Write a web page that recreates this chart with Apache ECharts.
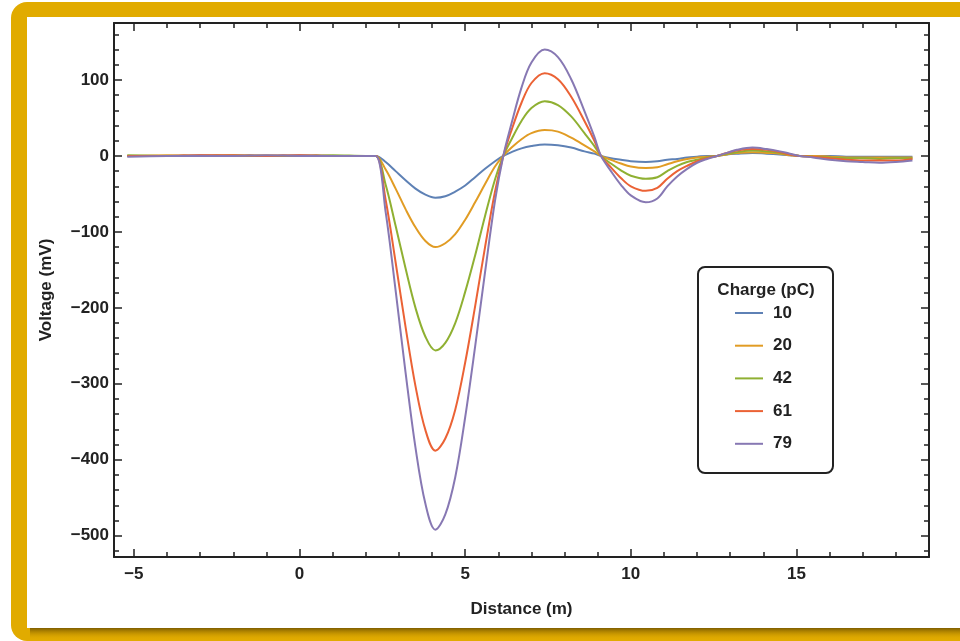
<!DOCTYPE html>
<html>
<head>
<meta charset="utf-8">
<script src="https://cdn.jsdelivr.net/npm/echarts@6/dist/echarts.min.js"></script>
<style>
  html, body { margin: 0; padding: 0; background: #fff; }
  #chart { width: 960px; height: 641px; }
</style>
</head>
<body>
<div id="chart"></div>
<script>
// distance (m) sample positions
let distance = [-5.2, -4, -3, -2, -1, 0, 1, 2,
    2.3, 2.6, 2.9, 3.2, 3.5, 3.8, 4.1, 4.4, 4.7, 5.0, 5.3, 5.6, 5.9, 6.15,
    6.4, 6.7, 7.0, 7.4, 7.8, 8.2, 8.6, 8.9, 9.1,
    9.4, 9.7, 10.0, 10.45, 10.8, 11.1, 11.4, 11.7, 12.0, 12.3, 12.6,
    12.9, 13.2, 13.67, 14.1, 14.5, 14.8, 15.1,
    15.5, 16, 16.5, 17, 17.5, 18, 18.5]

// voltage (mV) per charge
let v10 = [0, 0, 1, 0, 0, 1, 0, 0,
    0, -8, -20, -32, -43, -51, -55, -53, -47, -39, -28, -17, -7, 0,
    5, 10, 13, 15, 14, 11, 6, 3, 0,
    -3, -5, -7, -8, -7, -5, -4, -2, -1, 0, 0,
    2, 3, 4, 3, 2, 1, 0,
    0, 0, -1, -1, -1, -1, -1]
let v20 = [0, 1, 0, 0, 1, 0, 0, 0,
    0, -18, -43, -70, -94, -112, -120, -115, -103, -84, -61, -37, -14, 0,
    11, 22, 30, 34, 32, 24, 14, 6, 0,
    -5, -10, -14, -16, -15, -11, -7, -4, -2, -1, 0,
    2, 4, 5, 4, 3, 1, 0,
    0, -1, -2, -2, -2, -2, -2]
let v42 = [1, 0, 0, 1, 0, 0, 1, 0,
    0, -38, -92, -148, -200, -238, -256, -246, -220, -179, -131, -79, -31, 0,
    22, 46, 63, 72, 67, 52, 30, 13, 0,
    -10, -19, -26, -30, -28, -20, -13, -8, -5, -2, 0,
    3, 5, 7, 6, 4, 2, 0,
    -1, -2, -3, -3, -4, -3, -3]
let v61 = [0, 0, 1, 1, 0, 1, 0, 0,
    0, -58, -140, -225, -303, -361, -388, -372, -334, -272, -198, -120, -47, 0,
    34, 70, 96, 109, 101, 78, 46, 20, 0,
    -15, -29, -40, -46, -42, -30, -20, -13, -7, -3, 0,
    4, 7, 9, 8, 5, 2, 0,
    -1, -3, -5, -6, -6, -6, -4]
let v79 = [-1, 0, 0, 0, 1, 0, 0, 0,
    0, -74, -177, -285, -384, -458, -492, -472, -423, -344, -251, -153, -59, 0,
    43, 90, 123, 140, 130, 101, 59, 25, 0,
    -20, -38, -52, -61, -56, -40, -27, -17, -9, -4, 0,
    4, 8, 11, 9, 6, 3, 0,
    -2, -5, -7, -8, -9, -8, -6]

let charges = ['10', '20', '42', '61', '79']
let voltages = [v10, v20, v42, v61, v79]
let colors = ['#5E81B5', '#E19C24', '#8FB032', '#EB6235', '#8778B3']

let xMajor = [-5, 0, 5, 10, 15]
let xMinor = [-5, -4, -3, -2, -1, 0, 1, 2, 3, 4, 5, 6, 7, 8, 9, 10, 11, 12, 13, 14, 15, 16, 17, 18]
let yMajor = [-500, -400, -300, -200, -100, 0, 100]
let yMinor = [-520, -500, -480, -460, -440, -420, -400, -380, -360, -340, -320, -300, -280, -260, -240,
    -220, -200, -180, -160, -140, -120, -100, -80, -60, -40, -20, 0, 20, 40, 60, 80, 100, 120, 140, 160]

const ink = '#222'
const font = 'Liberation Sans, Arial, sans-serif'
const minus = v => String(v).replace('-', '\u2212')

function frameAxis(dim, position, ticks, len, main) {
    let ax = {
        type: 'value',
        position: position,
        min: dim === 'x' ? -5.6 : -528,
        max: dim === 'x' ? 19 : 175,
        splitLine: {show: false},
        axisLine: {show: main, onZero: false, lineStyle: {color: ink, width: 2}},
        axisTick: {show: true, inside: true, length: len, customValues: ticks,
            lineStyle: {color: ink, width: 1.5}},
        axisLabel: {show: false}
    }
    return ax
}

let xBottom = frameAxis('x', 'bottom', xMajor, 8, true)
xBottom.axisLabel = {show: true, customValues: xMajor, formatter: minus, margin: 9,
    color: ink, fontWeight: 'bold', fontSize: 17, fontFamily: font}
xBottom.name = 'Distance (m)'
xBottom.nameLocation = 'middle'
xBottom.nameGap = 44
xBottom.nameTextStyle = {color: ink, fontWeight: 'bold', fontSize: 17, fontFamily: font}

let yLeft = frameAxis('y', 'left', yMajor, 8, true)
yLeft.axisLabel = {show: true, customValues: yMajor, formatter: minus, margin: 5,
    color: ink, fontWeight: 'bold', fontSize: 17, fontFamily: font}
yLeft.name = 'Voltage (mV)'
yLeft.nameLocation = 'middle'
yLeft.nameGap = 59
yLeft.nameTextStyle = {color: ink, fontWeight: 'bold', fontSize: 17, fontFamily: font}

let chart = echarts.init(document.getElementById('chart'))

let option = {
    backgroundColor: '#fff',
    animation: false,
    grid: {left: 114, top: 23, width: 815, height: 534},
    xAxis: [
        xBottom,
        frameAxis('x', 'bottom', xMinor, 5, false),
        frameAxis('x', 'top', xMajor, 8, true),
        frameAxis('x', 'top', xMinor, 5, false)
    ],
    yAxis: [
        yLeft,
        frameAxis('y', 'left', yMinor, 5, false),
        frameAxis('y', 'right', yMajor, 8, true),
        frameAxis('y', 'right', yMinor, 5, false)
    ],
    legend: {
        orient: 'vertical',
        left: 730,
        top: 298,
        icon: 'rect',
        itemWidth: 28,
        itemHeight: 2,
        itemGap: 12.7,
        textStyle: {color: ink, fontWeight: 'bold', fontSize: 17, fontFamily: font,
            lineHeight: 20, padding: [0, 0, 0, 5]},
        data: charges
    },
    graphic: [
        // gold frame around the figure
        {type: 'rect', z: -20, shape: {x: 11, y: 2, width: 1000, height: 639, r: 16},
            style: {fill: '#E1AB00'}},
        {type: 'rect', z: -19, shape: {x: 30, y: 628, width: 940, height: 12},
            style: {fill: new echarts.graphic.LinearGradient(0, 0, 0, 1, [
                {offset: 0, color: 'rgba(110,80,0,0.85)'},
                {offset: 1, color: 'rgba(225,171,0,0)'}
            ])}},
        {type: 'rect', z: -18, shape: {x: 27, y: 17, width: 940, height: 611},
            style: {fill: '#fff'}},
        // legend box and title
        {type: 'rect', z: 1, shape: {x: 698, y: 267, width: 135, height: 206, r: 7},
            style: {fill: '#fff', stroke: ink, lineWidth: 2}},
        {type: 'text', z: 5, x: 766, y: 290,
            style: {text: 'Charge (pC)', fill: ink, font: 'bold 17px ' + font,
                textAlign: 'center', textVerticalAlign: 'middle'}}
    ],
    series: charges.map((c, i) => ({
        name: c,
        type: 'line',
        symbol: 'none',
        smooth: 0.35,
        color: colors[i],
        lineStyle: {width: 2, color: colors[i]},
        data: distance.map((d, k) => [d, voltages[i][k]])
    }))
}

chart.setOption(option)
</script>
</body>
</html>
